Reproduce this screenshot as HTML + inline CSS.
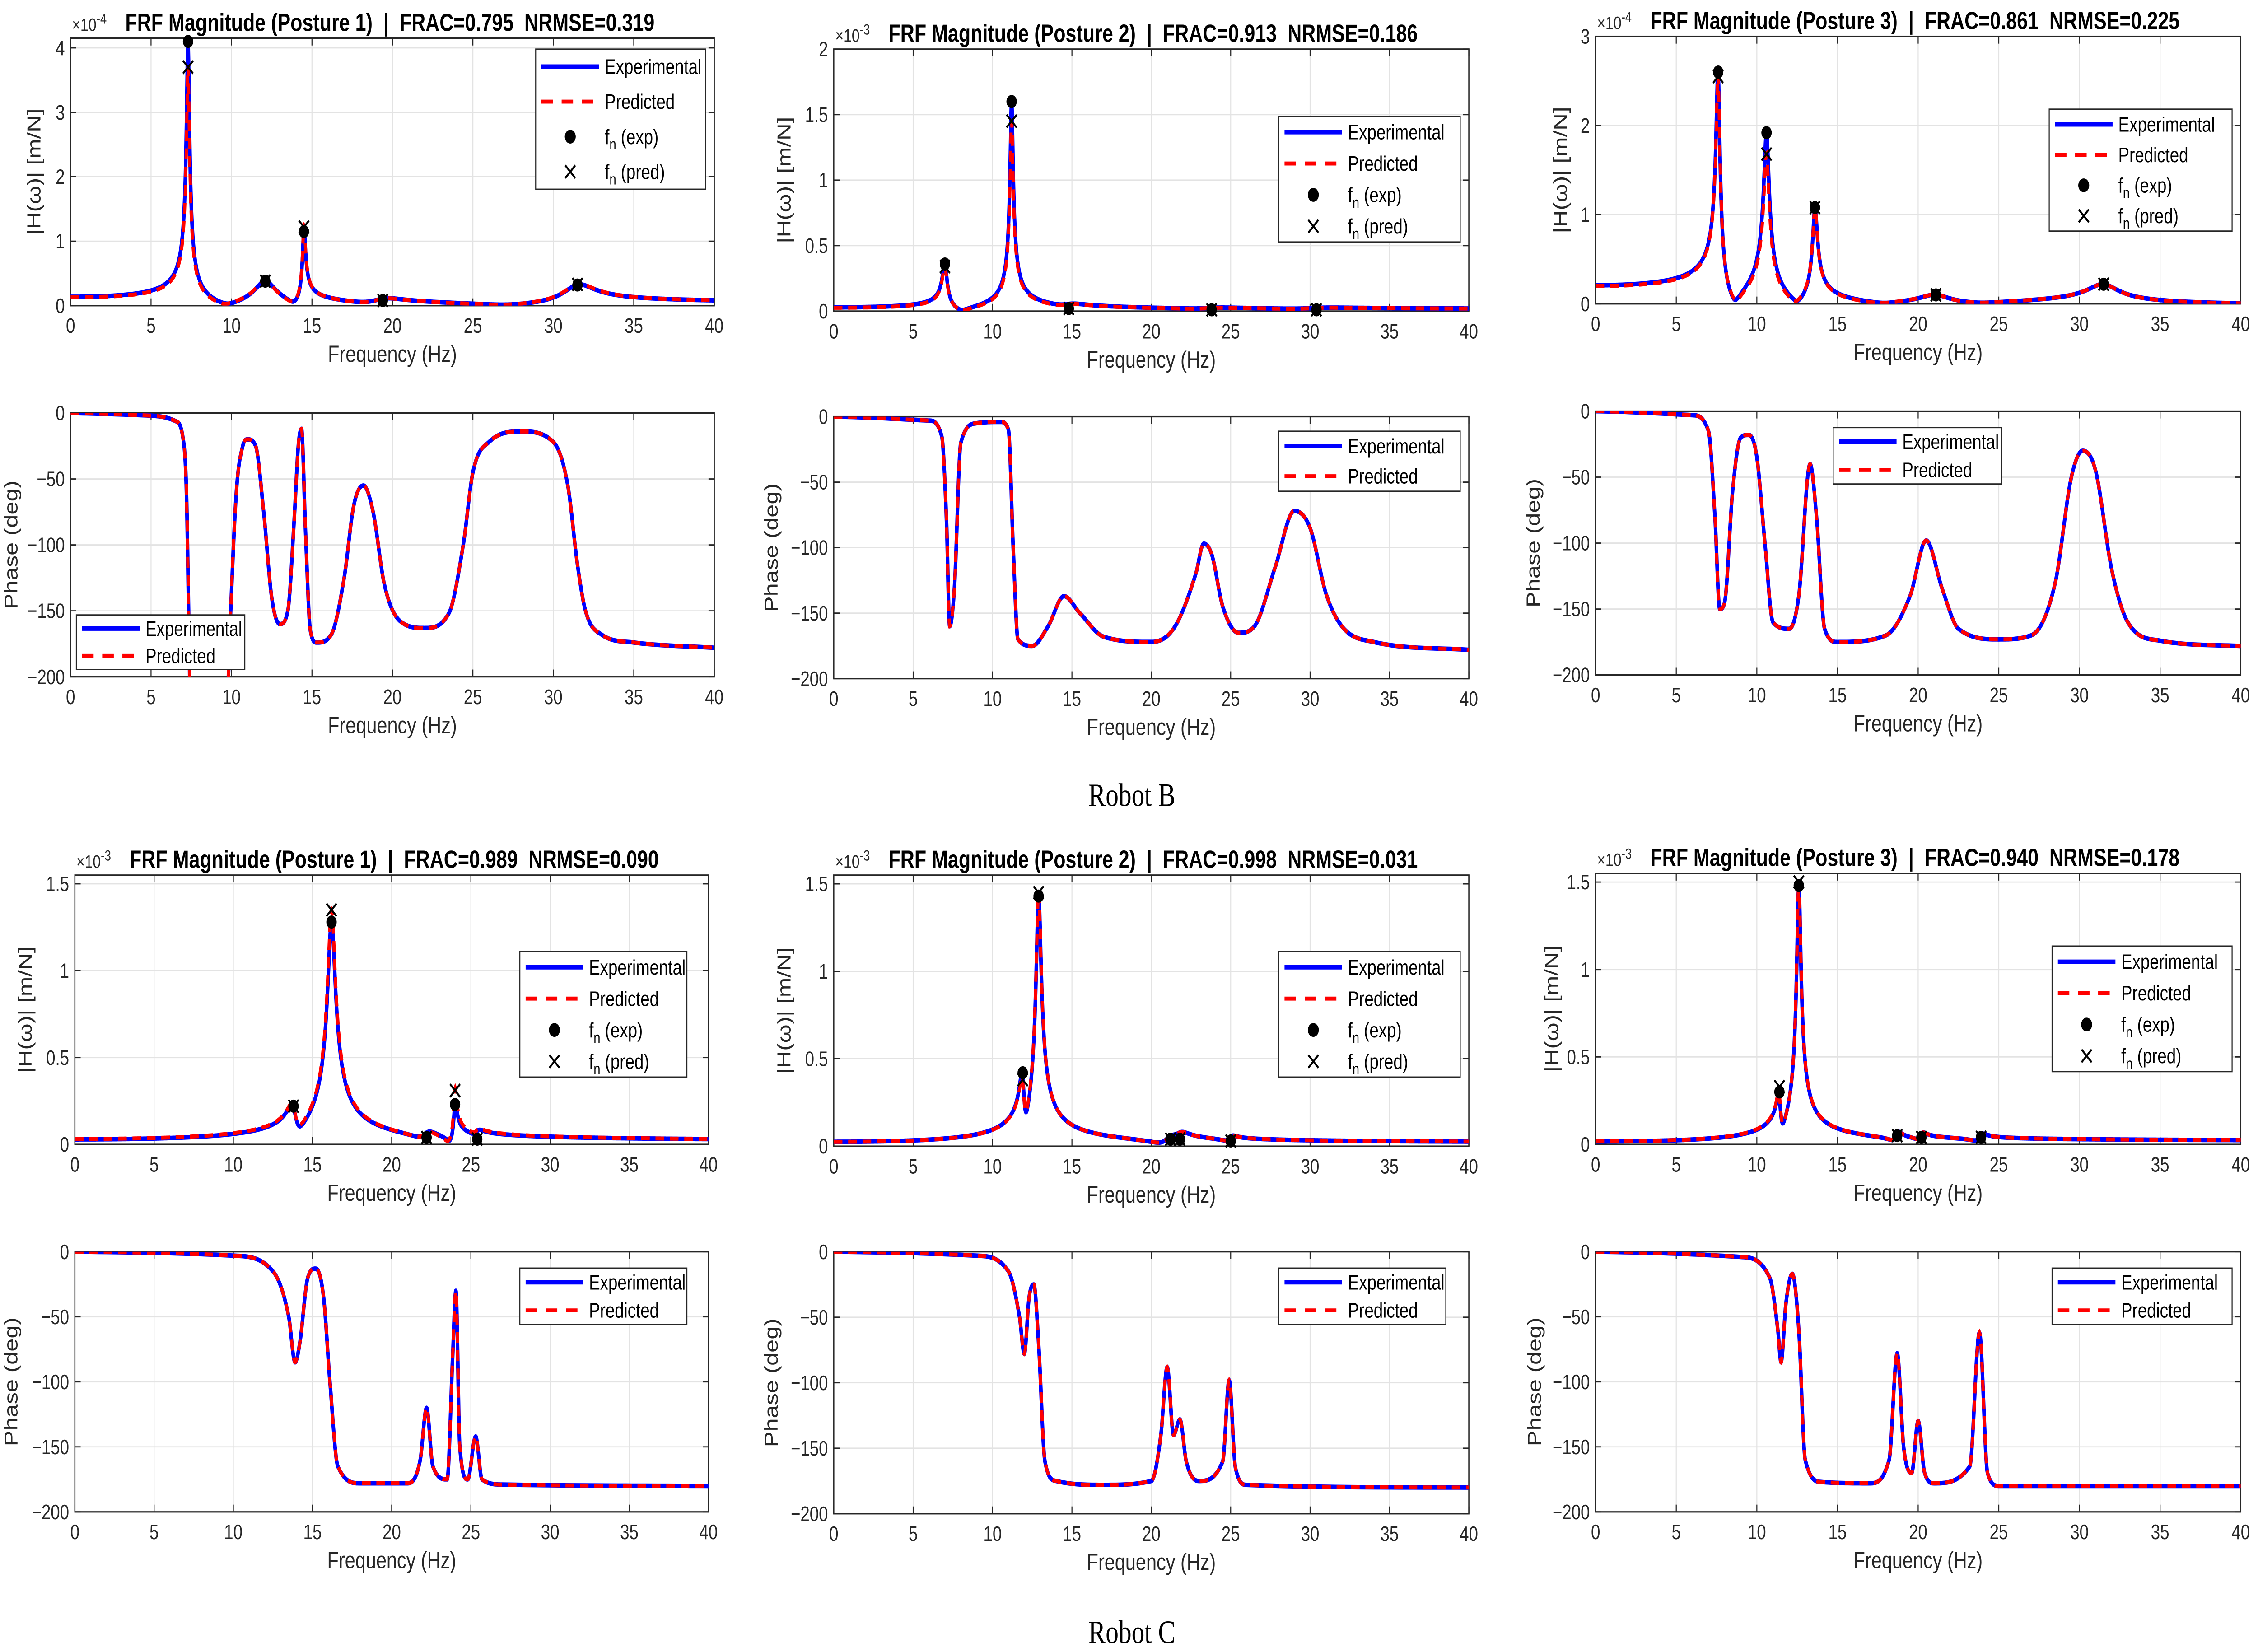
<!DOCTYPE html>
<html><head><meta charset="utf-8">
<style>html,body{margin:0;padding:0;background:#fff;overflow:hidden;width:100%;height:100%}svg{display:block;position:fixed;left:0;top:0;width:100vw;height:100vh}</style></head>
<body>
<svg id="fig" xmlns="http://www.w3.org/2000/svg" viewBox="0 0 1568 908" preserveAspectRatio="none" font-family="Liberation Sans, Arial, sans-serif">
<rect x="0" y="0" width="1568" height="908" fill="#fff"/>
<text x="786" y="443" font-family="Liberation Serif, serif" font-size="18" text-anchor="middle">Robot B</text>
<text x="786" y="903" font-family="Liberation Serif, serif" font-size="18" text-anchor="middle">Robot C</text>
</svg>
<script>
// ---------- data ----------
const freqTicks = [0,5,10,15,20,25,30,35,40];
const phaseTicks = [0,-50,-100,-150,-200];

const b1ModeFreq = [7.3,12.1,14.5,19.4,31.5];
const b1ExpPeak  = [4.1,0.38,1.15,0.08,0.32];
const b1PredPeak = [3.7,0.38,1.22,0.08,0.33];
const b1Zeta     = [0.012,0.05,0.006,0.05,0.03];
const b1Base = [-0.04];
const b1PhaseF   = [0,5,6.5,7.0,7.2,7.35,7.5,8.5,9.6,9.95,10.3,10.7,11.0,11.5,12.0,12.5,13.0,13.5,13.9,14.15,14.35,14.6,14.9,15.3,16.2,17.0,17.6,18.2,18.8,19.5,20.5,22.0,23.5,24.4,25.0,26.0,28.0,30.0,30.9,31.5,32.0,33.0,35.0,40];
const b1PhaseDeg = [0,-2,-6,-20,-60,-160,-260,-300,-260,-150,-60,-25,-20,-25,-75,-140,-160,-150,-80,-25,-12,-90,-165,-174,-168,-125,-70,-55,-75,-130,-158,-163,-152,-100,-45,-22,-14,-22,-55,-115,-150,-168,-174,-178];

const b2ModeFreq = [7.0,11.2,14.8,23.8,30.4];
const b2ExpPeak  = [0.36,1.6,0.02,0.01,0.01];
const b2PredPeak = [0.34,1.45,0.02,0.01,0.01];
const b2Zeta     = [0.02,0.008,0.05,0.05,0.05];
const b2Base = [-0.015];
const b2PhaseF   = [0,6,6.8,7.1,7.3,7.6,8.0,9.0,10.5,11.0,11.3,11.6,12.5,13.5,14.5,15.5,17,20,21.5,22.8,23.3,23.8,24.5,25.5,26.5,27.8,29,30,31,32,34,40];
const b2PhaseDeg = [0,-3,-15,-80,-160,-130,-20,-5,-4,-10,-100,-170,-175,-160,-137,-150,-168,-172,-160,-120,-97,-105,-145,-165,-160,-115,-72,-85,-135,-160,-172,-178];

const b3ModeFreq = [7.6,10.6,13.6,21.1,31.5];
const b3ExpPeak  = [2.6,1.92,1.08,0.1,0.22];
const b3PredPeak = [2.55,1.68,1.08,0.1,0.22];
const b3Zeta     = [0.015,0.015,0.01,0.04,0.03];
const b3Base = [0.03];
const b3PhaseF   = [0,6,7,7.4,7.7,8.0,8.5,9.0,9.5,10.0,10.5,11.0,12.0,12.6,13.3,13.7,14.2,15,18,19.5,20.5,21.5,22.5,25,27,28.5,29.5,30.2,31,32,33,35,40];
const b3PhaseDeg = [0,-3,-15,-80,-150,-145,-60,-20,-18,-35,-100,-160,-165,-140,-40,-80,-165,-175,-170,-140,-98,-135,-165,-173,-170,-130,-50,-30,-45,-120,-160,-174,-178];

const c1ModeFreq = [13.8,16.2,22.2,24.0,25.4];
const c1ExpPeak  = [0.16,1.28,0.04,0.23,0.03];
const c1PredPeak = [0.16,1.35,0.04,0.31,0.03];
const c1ExpMark  = [0.22,1.28,0.04,0.23,0.03];
const c1PredMark = [0.22,1.35,0.04,0.31,0.03];
const c1Zeta     = [0.02,0.015,0.02,0.004,0.01];
const c1Base = [-0.02];
const c1PhaseF   = [0,10,12.5,13.5,13.9,14.2,14.7,15.2,15.7,16.1,16.6,18,21,21.8,22.2,22.6,23.5,23.85,24.05,24.3,24.8,25.3,25.7,27,40];
const c1PhaseDeg = [0,-3,-15,-50,-85,-70,-20,-13,-35,-100,-165,-178,-178,-160,-120,-165,-175,-80,-30,-150,-175,-142,-175,-179,-180];

const c2ModeFreq = [11.9,12.9,21.2,21.8,25.0];
const c2ExpPeak  = [0.3,1.43,0.04,0.04,0.03];
const c2PredPeak = [0.27,1.45,0.04,0.04,0.03];
const c2ExpMark  = [0.42,1.43,0.04,0.04,0.03];
const c2PredMark = [0.38,1.45,0.04,0.04,0.03];
const c2Zeta     = [0.012,0.012,0.02,0.02,0.01];
const c2Base = [-0.02];
const c2PhaseF   = [0,9,11,11.7,12.0,12.3,12.6,12.9,13.3,14,17,20,20.6,21.0,21.4,21.8,22.2,23,24.5,24.9,25.3,26,40];
const c2PhaseDeg = [0,-3,-15,-50,-78,-35,-25,-70,-160,-175,-178,-175,-140,-88,-140,-128,-160,-175,-160,-98,-165,-178,-180];

const c3ModeFreq = [11.4,12.6,18.7,20.2,23.9];
const c3ExpPeak  = [0.2,1.48,0.05,0.04,0.04];
const c3PredPeak = [0.22,1.5,0.05,0.04,0.04];
const c3ExpMark  = [0.30,1.48,0.05,0.04,0.04];
const c3PredMark = [0.33,1.5,0.05,0.04,0.04];
const c3Zeta     = [0.012,0.01,0.01,0.01,0.01];
const c3Base = [-0.02];
const c3PhaseF   = [0,9,10.8,11.3,11.5,11.8,12.2,12.6,13,14,17,18.2,18.7,19.1,19.6,20.0,20.4,21,23.2,23.8,24.3,25,40];
const c3PhaseDeg = [0,-4,-20,-60,-85,-40,-17,-60,-160,-177,-178,-160,-78,-150,-170,-130,-170,-178,-165,-62,-170,-180,-180];

// ---------- layout ----------
const svg = document.getElementById('fig');
const NS = 'http://www.w3.org/2000/svg';
function mk(tag, attrs, parent){const e=document.createElementNS(NS,tag);for(const k in attrs)e.setAttribute(k,attrs[k]);(parent||svg).appendChild(e);return e;}

const magPanels = [
 {id:'b1',x0:49,x1:496,y0:21,y1:168,ymax:4.15,yt:[0,1,2,3,4],exp:'-4',yl:28,title:'FRF Magnitude (Posture 1)  |  FRAC=0.795  NRMSE=0.319',f:b1ModeFreq,e:b1ExpPeak,p:b1PredPeak,me:b1ExpPeak,mp:b1PredPeak,z:b1Zeta,b:b1Base,leg:[372,27,490,104]},
 {id:'b2',x0:579,x1:1020,y0:27,y1:171,ymax:2,yt:[0,0.5,1,1.5,2],exp:'-3',yl:549,title:'FRF Magnitude (Posture 2)  |  FRAC=0.913  NRMSE=0.186',f:b2ModeFreq,e:b2ExpPeak,p:b2PredPeak,me:b2ExpPeak,mp:b2PredPeak,z:b2Zeta,b:b2Base,leg:[888,64,1014,133]},
 {id:'b3',x0:1108,x1:1556,y0:20,y1:167,ymax:3,yt:[0,1,2,3],exp:'-4',yl:1088,title:'FRF Magnitude (Posture 3)  |  FRAC=0.861  NRMSE=0.225',f:b3ModeFreq,e:b3ExpPeak,p:b3PredPeak,me:b3ExpPeak,mp:b3PredPeak,z:b3Zeta,b:b3Base,leg:[1423,60,1550,127]},
 {id:'c1',x0:52,x1:492,y0:481,y1:629,ymax:1.55,yt:[0,0.5,1,1.5],exp:'-3',yl:22,title:'FRF Magnitude (Posture 1)  |  FRAC=0.989  NRMSE=0.090',f:c1ModeFreq,e:c1ExpPeak,p:c1PredPeak,me:c1ExpMark,mp:c1PredMark,z:c1Zeta,b:c1Base,leg:[361,523,477,592]},
 {id:'c2',x0:579,x1:1020,y0:481,y1:630,ymax:1.55,yt:[0,0.5,1,1.5],exp:'-3',yl:549,title:'FRF Magnitude (Posture 2)  |  FRAC=0.998  NRMSE=0.031',f:c2ModeFreq,e:c2ExpPeak,p:c2PredPeak,me:c2ExpMark,mp:c2PredMark,z:c2Zeta,b:c2Base,leg:[888,523,1014,592]},
 {id:'c3',x0:1108,x1:1556,y0:480,y1:629,ymax:1.55,yt:[0,0.5,1,1.5],exp:'-3',yl:1082,title:'FRF Magnitude (Posture 3)  |  FRAC=0.940  NRMSE=0.178',f:c3ModeFreq,e:c3ExpPeak,p:c3PredPeak,me:c3ExpMark,mp:c3PredMark,z:c3Zeta,b:c3Base,leg:[1425,520,1550,589]}
];
const phPanels = [
 {id:'b1',x0:49,x1:496,y0:227,y1:372,yl:12,F:b1PhaseF,D:b1PhaseDeg,leg:[53,338,170,368]},
 {id:'b2',x0:579,x1:1020,y0:229,y1:373,yl:540,F:b2PhaseF,D:b2PhaseDeg,leg:[888,237,1014,270]},
 {id:'b3',x0:1108,x1:1556,y0:226,y1:371,yl:1069,F:b3PhaseF,D:b3PhaseDeg,leg:[1273,235,1390,266]},
 {id:'c1',x0:52,x1:492,y0:688,y1:831,yl:12,F:c1PhaseF,D:c1PhaseDeg,leg:[361,697,477,728]},
 {id:'c2',x0:579,x1:1020,y0:688,y1:832,yl:540,F:c2PhaseF,D:c2PhaseDeg,leg:[888,697,1004,728]},
 {id:'c3',x0:1108,x1:1556,y0:688,y1:831,yl:1070,F:c3PhaseF,D:c3PhaseDeg,leg:[1425,697,1550,728]}
];

function fmt(v){return (v<0?'\u2212':'')+String(Math.abs(v));}

function axesFrame(P, yticks, sy, ylab, name){
  const g = mk('g',{});
  
  
  mk('rect',{x:P.x0,y:P.y0,width:P.x1-P.x0,height:P.y1-P.y0,fill:'#fff'},g);
  const sx = f => P.x0 + f/40*(P.x1-P.x0);
  freqTicks.forEach(t=>{
    const x=sx(t);
    mk('line',{x1:x,x2:x,y1:P.y0,y2:P.y1,stroke:'#e3e3e3','stroke-width':0.7},g);
    mk('line',{x1:x,x2:x,y1:P.y1,y2:P.y1-4,stroke:'#262626','stroke-width':0.7},g);
    mk('line',{x1:x,x2:x,y1:P.y0,y2:P.y0+4,stroke:'#262626','stroke-width':0.7},g);
    const t2=mk('text',{x:x,y:P.y1+15,'font-size':11.5,'text-anchor':'middle',fill:'#262626'},g);
    
    
    t2.textContent=t;
  });
  yticks.forEach(t=>{
    const y=sy(t);
    mk('line',{x1:P.x0,x2:P.x1,y1:y,y2:y,stroke:'#e3e3e3','stroke-width':0.7},g);
    mk('line',{x1:P.x0,x2:P.x0+4,y1:y,y2:y,stroke:'#262626','stroke-width':0.7},g);
    mk('line',{x1:P.x1,x2:P.x1-4,y1:y,y2:y,stroke:'#262626','stroke-width':0.7},g);
    const t2=mk('text',{x:P.x0-4,y:y+4,'font-size':11.5,'text-anchor':'end',fill:'#262626'},g);
    
    
    t2.textContent=fmt(t);
  });
  mk('rect',{x:P.x0,y:P.y0,width:P.x1-P.x0,height:P.y1-P.y0,fill:'none',stroke:'#262626','stroke-width':0.8},g);
  const xl=mk('text',{x:(P.x0+P.x1)/2,y:P.y1+31,'font-size':13,'text-anchor':'middle',fill:'#262626'},g);
  
  
  xl.textContent='Frequency (Hz)';
  const cy=(P.y0+P.y1)/2;
  const yt=mk('text',{x:P.yl,y:cy,'font-size':13,'text-anchor':'middle',fill:'#262626',transform:`rotate(-90 ${P.yl} ${cy})`},g);
  
  
  yt.textContent=ylab;
  const cp=mk('clipPath',{id:'clip-'+name},svg);
  mk('rect',{x:P.x0,y:P.y0,width:P.x1-P.x0,height:P.y1-P.y0},cp);
  return {g,sx};
}

function magAt(freqs, peaks, zetas, base, f){
  let re=base, im=0;
  for(let i=0;i<freqs.length;i++){
    const r=f/freqs[i], z=zetas[i], A=peaks[i]*2*z;
    const a=1-r*r, b=2*z*r, d=a*a+b*b;
    re+=A*a/d; im-=A*b/d;
  }
  return Math.hypot(re,im);
}

function legend(box, entries, name){
  const g=mk('g',{});
  
  
  const [x0,y0,x1,y1]=box;
  mk('rect',{x:x0,y:y0,width:x1-x0,height:y1-y0,fill:'#fff',stroke:'#262626','stroke-width':0.7},g);
  const h=(y1-y0)/entries.length;
  entries.forEach((en,i)=>{
    const y=y0+h*(i+0.5);
    const tx = x0+48;
    const e=mk('g',{},g);
    
    
    const lx2 = x0+44;
    if(en.k==='solid') mk('line',{x1:x0+4,x2:lx2,y1:y,y2:y,stroke:'#0000ff','stroke-width':2.5},e);
    if(en.k==='dash') mk('line',{x1:x0+4,x2:lx2,y1:y,y2:y,stroke:'#ff0000','stroke-width':2.2,'stroke-dasharray':'8,6'},e);
    if(en.k==='dot') mk('circle',{cx:x0+24,cy:y,r:3.8,fill:'#000'},e);
    if(en.k==='x'){mk('path',{d:`M${x0+20.5},${y-3.5}L${x0+27.5},${y+3.5}M${x0+20.5},${y+3.5}L${x0+27.5},${y-3.5}`,stroke:'#000','stroke-width':1.2},e);}
    const t=mk('text',{x:tx,y:y+4,'font-size':11.5,fill:'#000'},e);
    if(en.sub){
      t.appendChild(document.createTextNode('f'));
      const s=mk('tspan',{'font-size':8.5,dy:3},t); s.textContent='n';
      const r=mk('tspan',{dy:-3},t); r.textContent=' '+en.t;
    } else t.textContent=en.t;
  });
}

function pathFrom(pts){return 'M'+pts.map(p=>p[0].toFixed(2)+','+p[1].toFixed(2)).join('L');}

magPanels.forEach(P=>{
  const sy=v=>P.y1 - v/P.ymax*(P.y1-P.y0);
  const {g,sx}=axesFrame(P,P.yt,sy,'|H(\u03c9)|  [m/N]','mag-'+P.id);
  const N=2400, pe=[], pp=[];
  for(let i=0;i<=N;i++){const f=40*i/N;
    pe.push([sx(f),sy(magAt(P.f,P.e,P.z,P.b[0],f))]);
    pp.push([sx(f),sy(magAt(P.f,P.p,P.z,P.b[0],f))]);}
  const cl=mk('g',{'clip-path':`url(#clip-mag-${P.id})`},g);
  const l1=mk('path',{d:pathFrom(pe),fill:'none',stroke:'#0000ff','stroke-width':2.5,'stroke-linejoin':'round'},cl);
  
  
  const l2=mk('path',{d:pathFrom(pp),fill:'none',stroke:'#ff0000','stroke-width':2.2,'stroke-dasharray':'6,4'},cl);
  
  
  P.f.forEach((fn,i)=>{
    const c=mk('circle',{cx:sx(fn),cy:sy(P.me[i]),r:3.6,fill:'#000'},g);
    
    
    const x=sx(fn), y=sy(P.mp[i]);
    const m=mk('path',{d:`M${x-3.5},${y-3.5}L${x+3.5},${y+3.5}M${x-3.5},${y+3.5}L${x+3.5},${y-3.5}`,stroke:'#000','stroke-width':1.2},g);
    
    
  });
  const ex=mk('text',{x:P.x0+1,y:P.y0-4,'font-size':10,fill:'#262626'});
  
  
  ex.appendChild(document.createTextNode('\u00d710'));
  const sp=mk('tspan',{'font-size':8,dy:-4},ex); sp.textContent=P.exp;
  const ti=mk('text',{x:P.x0+38,y:P.y0-4,'font-size':13.5,'font-weight':'bold',fill:'#000'});
  
  
  ti.setAttribute('style','white-space:pre');
  ti.textContent=P.title;
  legend(P.leg,[{k:'solid',t:'Experimental'},{k:'dash',t:'Predicted'},{k:'dot',t:'(exp)',sub:1},{k:'x',t:'(pred)',sub:1}],'magnitude-legend');
});

function smooth(F,D,sx,sy){
  const n=F.length, m=new Array(n);
  const d=[];for(let i=0;i<n-1;i++)d.push((D[i+1]-D[i])/(F[i+1]-F[i]));
  m[0]=d[0];m[n-1]=d[n-2];
  for(let i=1;i<n-1;i++){m[i]=(d[i-1]*d[i]<=0)?0:(d[i-1]+d[i])/2;}
  for(let i=0;i<n-1;i++){if(d[i]===0){m[i]=0;m[i+1]=0;continue;}
    const a=m[i]/d[i],b=m[i+1]/d[i],s=a*a+b*b;if(s>9){const t=3/Math.sqrt(s);m[i]=t*a*d[i];m[i+1]=t*b*d[i];}}
  const pts=[];
  for(let i=0;i<n-1;i++){const h=F[i+1]-F[i];
    for(let k=0;k<20;k++){const t=k/20,t2=t*t,t3=t2*t;
      const v=(2*t3-3*t2+1)*D[i]+(t3-2*t2+t)*h*m[i]+(-2*t3+3*t2)*D[i+1]+(t3-t2)*h*m[i+1];
      pts.push([sx(F[i]+t*h),sy(v)]);}}
  pts.push([sx(F[n-1]),sy(D[n-1])]);
  return pts;
}

phPanels.forEach(P=>{
  const sy=v=>P.y0 + (-v)/200*(P.y1-P.y0);
  const {g,sx}=axesFrame(P,phaseTicks,sy,'Phase (deg)','ph-'+P.id);
  const pts=smooth(P.F,P.D,sx,sy);
  const cl=mk('g',{'clip-path':`url(#clip-ph-${P.id})`},g);
  const l1=mk('path',{d:pathFrom(pts),fill:'none',stroke:'#0000ff','stroke-width':2.5,'stroke-linejoin':'round'},cl);
  
  
  const l2=mk('path',{d:pathFrom(pts),fill:'none',stroke:'#ff0000','stroke-width':2.2,'stroke-dasharray':'6,4'},cl);
  
  
  legend(P.leg,[{k:'solid',t:'Experimental'},{k:'dash',t:'Predicted'}],'phase-legend');
});
</script>
</body></html>
